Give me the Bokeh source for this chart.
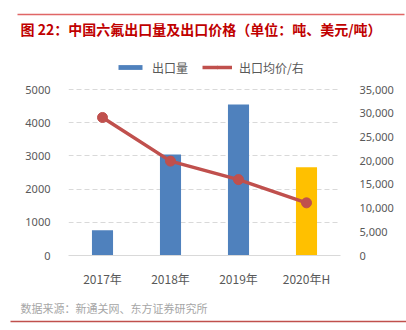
from bokeh.plotting import figure
from bokeh.models import (Range1d, FactorRange, LinearAxis, FixedTicker, NumeralTickFormatter,
                          ColumnDataSource, Legend, LegendItem)
from bokeh.layouts import column
from bokeh.core.properties import value
from bokeh.embed import file_html
from bokeh.resources import INLINE

# ---- data ----
categories = ["2017年", "2018年", "2019年", "2020年H"]
export_volume = [760, 3040, 4550, 2660]          # 吨
export_price = [29100, 19900, 16000, 11100]       # 美元/吨
bar_colors = ["#4F81BD", "#4F81BD", "#4F81BD", "#FFC000"]
left_ticks = [0, 1000, 2000, 3000, 4000, 5000]
right_ticks = [0, 5000, 10000, 15000, 20000, 25000, 30000, 35000]
title_text = "图 22：中国六氟出口量及出口价格（单位：吨、美元/吨）"
source_text = "数据来源：新通关网、东方证券研究所"
legend_labels = ["出口量", "出口均价/右"]

CJK = "Noto Sans CJK SC"
GRAY = "#595959"
W = 406


def blank_fig(h):
    f = figure(width=W, height=h, x_range=Range1d(0, W), y_range=Range1d(h, 0),
               output_backend="svg", toolbar_location=None,
               x_axis_location=None, y_axis_location=None,
               min_border=0, outline_line_color=None, frame_align=False)
    f.xgrid.visible = False
    f.ygrid.visible = False
    return f

# ---- title strip (page y 0..45) ----
top = blank_fig(45)
top.segment(x0=[17], y0=[14], x1=[404], y1=[14], line_color="#E06666", line_width=1.5)
top.text(x=[20], y=[28.5], text=[title_text], text_font=value(CJK), text_font_size="14px",
         text_font_style="bold", text_color="#C00000", text_baseline="middle", text_align="left")

# ---- main chart (page y 45..295; frame 45..255, gridline 5000 at page y 89) ----
frame_h = 210
px_per_5000 = 166.0
left_end = 5000 * frame_h / px_per_5000
right_end = 35000 * frame_h / px_per_5000

p = figure(width=W, height=250, x_range=FactorRange(*categories), y_range=Range1d(0, left_end),
           output_backend="svg", toolbar_location=None, frame_align=False,
           min_border_left=68, min_border_right=66, min_border_top=0, min_border_bottom=40,
           outline_line_color=None, y_axis_location=None)
p.extra_y_ranges = {"price": Range1d(0, right_end)}

src = ColumnDataSource(dict(cat=categories, vol=export_volume, color=bar_colors))
bars = p.vbar(x="cat", top="vol", width=0.31, source=src, fill_color="color", line_color=None)

line = p.line(categories, export_price, y_range_name="price", line_color="#C0504D", line_width=3.5)
dots = p.scatter(categories, export_price, y_range_name="price", size=10,
                 fill_color="#C0504D", line_color="#C0504D")

# axes
lax = LinearAxis(ticker=FixedTicker(ticks=left_ticks), formatter=NumeralTickFormatter(format="0"))
rax = LinearAxis(y_range_name="price", ticker=FixedTicker(ticks=right_ticks),
                 formatter=NumeralTickFormatter(format="0,0"))
for ax, st in ((lax, 12), (rax, 13)):
    ax.axis_line_color = None
    ax.major_tick_line_color = None
    ax.minor_tick_line_color = None
    ax.major_label_standoff = st
    ax.major_label_text_font = "Noto Sans"
    ax.major_label_text_font_size = "11px"
    ax.major_label_text_color = GRAY
p.add_layout(lax, "left")
p.add_layout(rax, "right")

xa = p.xaxis[0]
xa.axis_line_color = "#D9D9D9"
xa.axis_line_width = 1
xa.major_tick_line_color = None
xa.minor_tick_line_color = None
xa.major_label_standoff = 8
xa.major_label_text_font = CJK
xa.major_label_text_font_size = "12px"
xa.major_label_text_color = GRAY

p.xgrid.visible = False
p.ygrid.ticker = FixedTicker(ticks=left_ticks[1:])
p.ygrid.grid_line_color = "#D9D9D9"
p.ygrid.grid_line_dash = "5 3"
p.ygrid.grid_line_width = 1

legend = Legend(items=[LegendItem(label=legend_labels[0], renderers=[bars], index=0),
                       LegendItem(label=legend_labels[1], renderers=[line, dots])],
                orientation="horizontal", location=(115 - 68, frame_h - 22 - 10),
                padding=0, margin=0, spacing=14, glyph_width=30, glyph_height=6,
                label_standoff=7, label_height=20,
                label_text_font=CJK, label_text_font_size="12px", label_text_color=GRAY,
                border_line_color=None, background_fill_alpha=0)
p.add_layout(legend, "center")

# ---- source strip (page y 295..330) ----
bot = blank_fig(35)
bot.text(x=[20], y=[12.5], text=[source_text], text_font=value(CJK), text_font_size="11px",
         text_color="#A6A6A6", text_baseline="middle", text_align="left")
bot.segment(x0=[10], y0=[26], x1=[406], y1=[26], line_color="#C0504D", line_width=1.5)

layout = column(top, p, bot, spacing=0)
open("out.html", "w").write(file_html(layout, INLINE))
